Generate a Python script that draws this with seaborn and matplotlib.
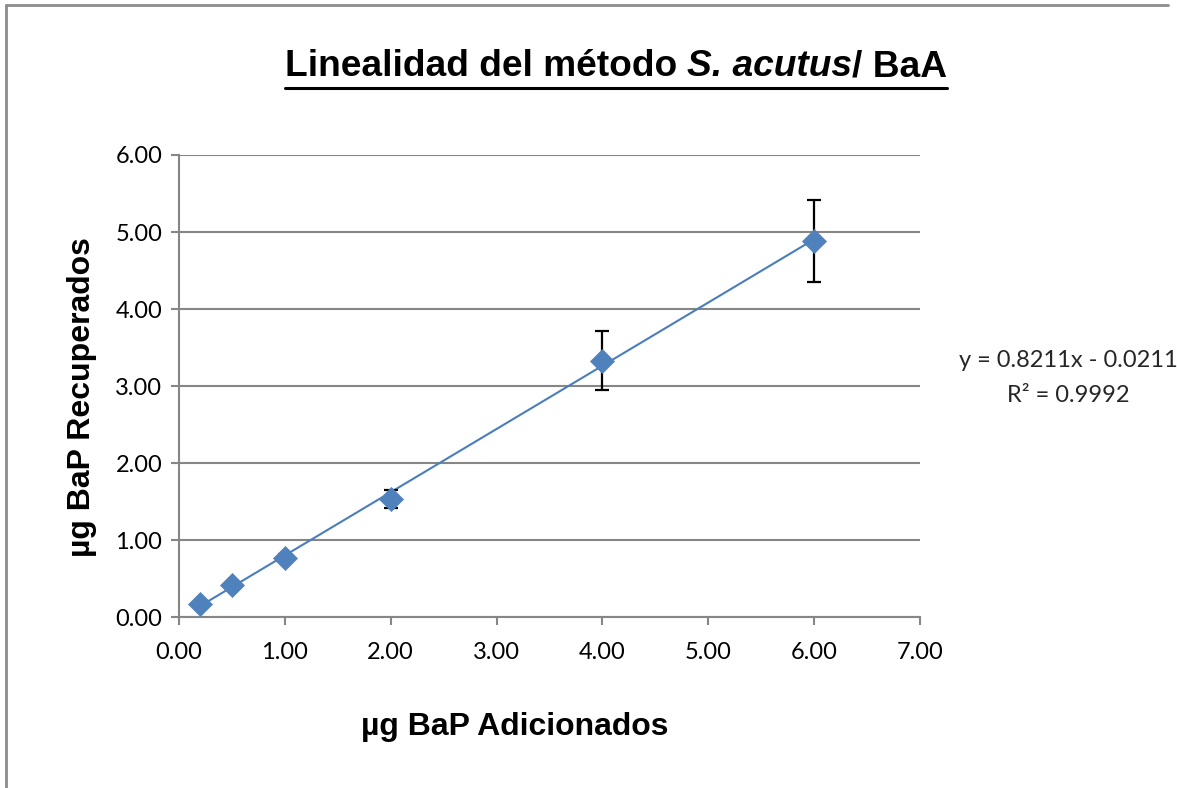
import numpy as np
import pandas as pd
import seaborn as sns
import matplotlib.pyplot as plt
from matplotlib.lines import Line2D

# Amount of BaP added (µg) and mean amount recovered (µg) with standard deviations
added = [0.2, 0.5, 1.0, 2.0, 4.0, 6.0]
recovered = [0.165, 0.416, 0.77, 1.53, 3.33, 4.88]
std_dev = [0.02, 0.03, 0.05, 0.12, 0.38, 0.53]

# Linear trendline as reported
slope = 0.8211
intercept = -0.0211
r_squared = 0.9992

x_ticks = [0, 1, 2, 3, 4, 5, 6, 7]
y_ticks = [0, 1, 2, 3, 4, 5, 6]

sns.set_style("white")
plt.rcParams['font.family'] = ['Lato', 'DejaVu Sans']

fig = plt.figure(figsize=(11.77, 7.88), dpi=100)
ax = fig.add_axes([0.1521, 0.2170, 0.6296, 0.5863])

df = pd.DataFrame({"added": added, "recovered": recovered, "sd": std_dev})

# Trendline over the range of the data
xs = np.array([min(added), max(added)])
trend = pd.DataFrame({"x": xs, "y": slope * xs + intercept})
sns.lineplot(data=trend, x="x", y="y", ax=ax, color="#4A7EBB", linewidth=1.5, zorder=3)

ax.errorbar(df["added"], df["recovered"], yerr=df["sd"], fmt="none",
            ecolor="black", elinewidth=1.6, capsize=5, capthick=1.6, zorder=4)
sns.scatterplot(data=df, x="added", y="recovered", ax=ax, marker="D", s=150,
                color="#4F81BD", edgecolor="#4F81BD", linewidth=0.5, zorder=5)

ax.set_xlim(0, 7)
ax.set_ylim(0, 6)
ax.set_xticks(x_ticks)
ax.set_yticks(y_ticks)
ax.set_xticklabels([f"{v:.2f}" for v in x_ticks])
ax.set_yticklabels([f"{v:.2f}" for v in y_ticks])
ax.tick_params(axis="both", labelsize=17, colors="#868686", labelcolor="black",
               length=6, width=1.5, direction="out")
ax.tick_params(axis="x", bottom=True, pad=12)
ax.tick_params(axis="y", left=True, pad=6)

ax.grid(axis="y", color="#868686", linewidth=1.5)
ax.grid(axis="x", visible=False)
for side in ["top", "right"]:
    ax.spines[side].set_visible(False)
for side in ["left", "bottom"]:
    ax.spines[side].set_color("#868686")
    ax.spines[side].set_linewidth(1.5)
ax.set_axisbelow(True)

ax.set_xlabel("")
ax.set_ylabel("")
bold = dict(family="Liberation Sans", fontweight="bold", color="black")
fig.text(0.437, 0.077, "µg BaP Adicionados", ha="center", va="center", fontsize=23, **bold)
fig.text(0.0697, 0.4956, "µg BaP Recuperados", ha="center", va="center", fontsize=23,
         rotation=90, **bold)

# Title in three runs: plain bold, bold italic, plain bold
title_y = 1 - 67 / 788
renderer = fig.canvas.get_renderer()
parts = [("Linealidad del método ", "normal"), ("S. acutus", "italic"), ("/ BaA", "normal")]
texts = []
for s, style in parts:
    t = fig.text(0, title_y, s, fontsize=26.7, fontstyle=style, ha="left", va="center", **bold)
    texts.append(t)
widths = [t.get_window_extent(renderer).width for t in texts]
total = sum(widths)
x0 = (616 - total / 2)
cur = x0
for t, w in zip(texts, widths):
    t.set_x(cur / 1177)
    cur += w
ul_y = 1 - 88 / 788
fig.add_artist(Line2D([x0 / 1177, cur / 1177], [ul_y, ul_y], color="black", linewidth=2.2))

# Trendline equation
fig.text(1068 / 1177, 1 - 360 / 788, f"y = {slope:.4f}x - {abs(intercept):.4f}",
         ha="center", va="center", fontsize=17)
fig.text(1068 / 1177, 1 - 395 / 788, f"R² = {r_squared:.4f}",
         ha="center", va="center", fontsize=17)

# Chart border (top and left edges)
fig.add_artist(Line2D([6 / 1177, 1168 / 1177], [1 - 5 / 788, 1 - 5 / 788], color="#8c8c8c", linewidth=2))
fig.add_artist(Line2D([6 / 1177, 6 / 1177], [0, 1 - 5 / 788], color="#8c8c8c", linewidth=2))

fig.savefig("out.png", dpi=100)
